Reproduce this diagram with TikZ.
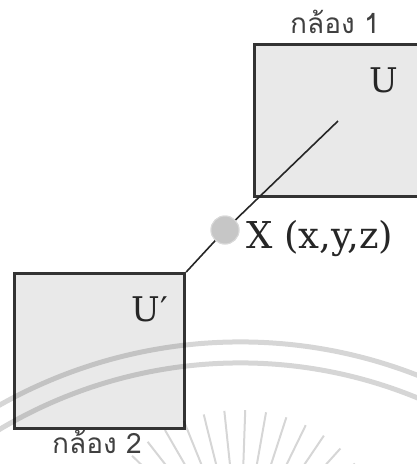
\documentclass[tikz,border=0pt]{standalone}
\usepackage{fontspec}
\newfontfamily\thaifont[Script=Thai]{Loma}
\newfontfamily\labelfont{DejaVu Serif}
\definecolor{boxfill}{HTML}{E9E9E9}
\definecolor{boxline}{HTML}{333333}
\tikzset{
  camerabox/.style={draw=boxline, fill=boxfill, line width=3.2pt},
  ray/.style={draw=black!85, line width=1.6pt},
  pointx/.style={circle, fill=gray!45, draw=gray!30, line width=1pt, minimum size=28pt, inner sep=0pt},
  biglabel/.style={font=\labelfont\fontsize{34}{38}\selectfont, text=black!85, inner sep=0pt},
  thailabel/.style={font=\thaifont\fontsize{28}{30}\selectfont, text=black!75, inner sep=0pt},
  watermark/.style={draw=black, draw opacity=0.16, line width=5pt},
  wmray/.style={draw=black, draw opacity=0.16, line width=2pt}
}
\begin{document}
\begin{tikzpicture}[x=1pt,y=-1pt]
\useasboundingbox (0,0) rectangle (417,464);
\clip (0,0) rectangle (417,464);
% cameras
\node[camerabox, minimum width=170pt, minimum height=152pt, anchor=north west, inner sep=0pt] (box1) at (253,43) {};
\node[camerabox, minimum width=170pt, minimum height=155pt, anchor=north west, inner sep=0pt] (box2) at (13,272) {};
\coordinate (c1) at (338,121);
\node[pointx] (X) at (225,230) {};
\draw[ray] (c1) -- (X.center);
\draw[ray] (X.center) -- (box2.north east);
\node[pointx] at (X) {};
% labels
\node[thailabel] (t1) at (335,22) {กล้อง 1};
\node[thailabel] (t2) at (97,442) {กล้อง 2};
\node[biglabel] (u1) at (384,80) {U};
\node[biglabel] (u2) at (150,309) {U′};
\node[biglabel, font=\labelfont\fontsize{37}{40}\selectfont, anchor=west] (xl) at (246,239) {X (x,y,z)};
% faint watermark
\draw[watermark] (240,831) ++(-150:489) arc[start angle=-150, end angle=-30, radius=489];
\draw[watermark] (240,831) ++(-150:468) arc[start angle=-150, end angle=-30, radius=468];
\foreach \a in {28,36,...,152} {
  \draw[wmray] (240,560) ++(\a:-150) -- ++(\a:70);
}
\end{tikzpicture}
\end{document}
